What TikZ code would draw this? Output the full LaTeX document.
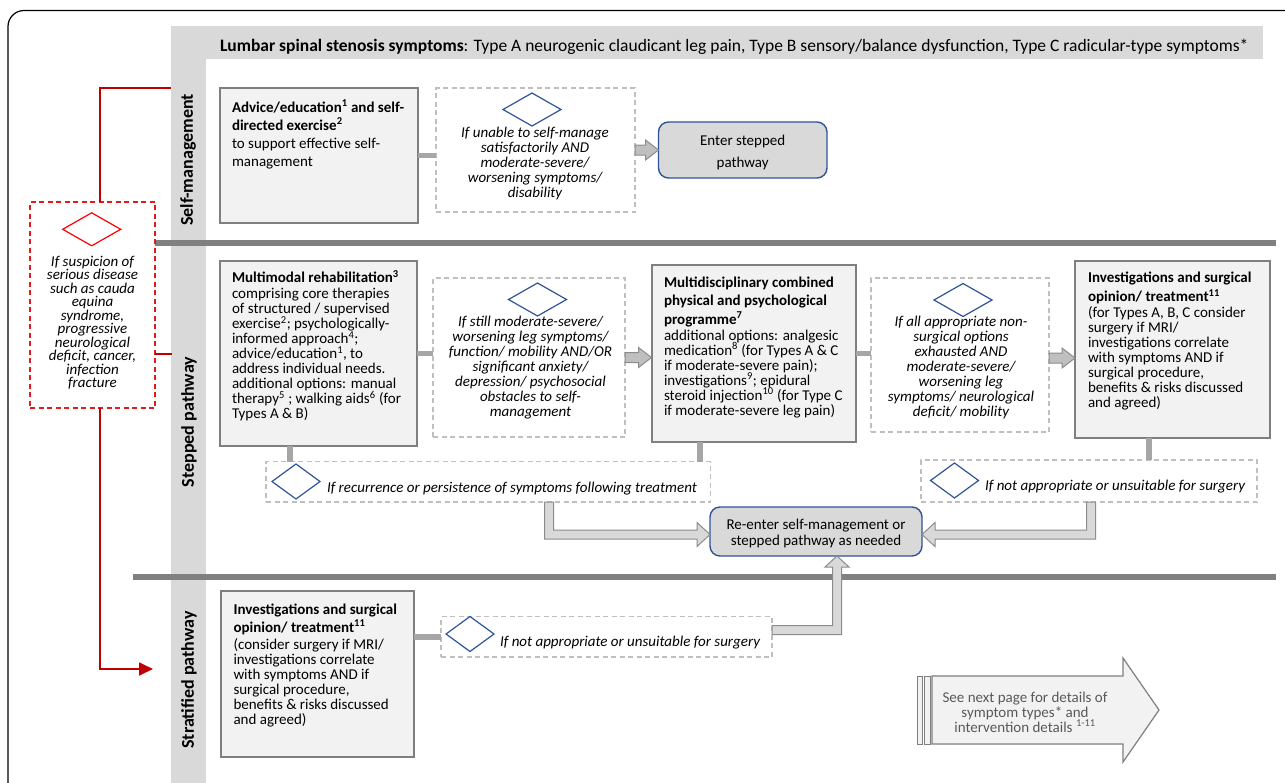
\documentclass[tikz,border=0pt]{standalone}
\usepackage{fontspec}
\setmainfont{Carlito}
\usetikzlibrary{calc,fit,shapes.geometric,arrows.meta}
\definecolor{bandgrey}{HTML}{D9D9D9}
\definecolor{boxfill}{HTML}{F2F2F2}
\definecolor{boxline}{HTML}{7F7F7F}
\definecolor{connline}{HTML}{A6A6A6}
\definecolor{sepline}{HTML}{808080}
\definecolor{dashgrey}{HTML}{BFBFBF}
\definecolor{navy}{HTML}{2F5597}
\definecolor{darkred}{HTML}{C00000}
\definecolor{boxred}{HTML}{E31A1C}
\definecolor{brightred}{HTML}{FF0000}
\definecolor{arrowfill}{HTML}{BFBFBF}
\definecolor{arrowline}{HTML}{8C8C8C}
\definecolor{arrowfillB}{HTML}{D9D9D9}
\definecolor{greytext}{HTML}{595959}
\newcommand{\blockR}[2]{%
  \draw[barrow] ($(#1)+(0,-5)$) -- ($(#1 -| #2)+(-13,-5)$) -- ++(0,-5) -- (#1 -| #2) -- ++(-13,10) -- ++(0,-5) -- ($(#1)+(0,5)$) -- cycle;}
\newcommand{\elbowDR}[3]{%
  \draw[barrowB] ($(#1 -| #2)+(-4.5,0)$) -- ($(#2)+(-4.5,4.5)$) -- ($(#2 -| #3)+(-13,4.5)$) -- ++(0,7.5) -- (#2 -| #3) -- ++(-13,-12) -- ++(0,7.5) -- ($(#2)+(4.5,-4.5)$) -- ($(#1 -| #2)+(4.5,0)$) -- cycle;}
\newcommand{\elbowDL}[3]{%
  \draw[barrowB] ($(#1 -| #2)+(4.5,0)$) -- ($(#2)+(4.5,4.5)$) -- ($(#2 -| #3)+(13,4.5)$) -- ++(0,7.5) -- (#2 -| #3) -- ++(13,-12) -- ++(0,7.5) -- ($(#2)+(-4.5,-4.5)$) -- ($(#1 -| #2)+(-4.5,0)$) -- cycle;}
\newcommand{\elbowRU}[3]{%
  \draw[barrowB] ($(#2 -| #1)+(0,-4.5)$) -- ($(#2)+(-4.5,-4.5)$) -- ($(#2 |- #3)+(-4.5,11)$) -- ++(-7.5,0) -- (#2 |- #3) -- ++(12,11) -- ++(-7.5,0) -- ($(#2)+(4.5,4.5)$) -- ($(#2 -| #1)+(0,4.5)$) -- cycle;}
\begin{document}
\lineskiplimit=-20pt
\lineskip=0pt
\begin{tikzpicture}[x=1pt,y=-1pt,
  every node/.style={inner sep=0pt,outer sep=0pt},
  box/.style={draw=boxline, fill=boxfill, line width=2pt},
  dbox/.style={draw=dashgrey, line width=1.1pt, dash pattern=on 5pt off 3.5pt},
  rbox/.style={draw=boxred, line width=1.4pt, dash pattern=on 5pt off 3.5pt},
  pbox/.style={draw=navy, fill=bandgrey, line width=1.4pt, rounded corners=10pt},
  dia/.style={diamond, draw=navy, line width=1.2pt, minimum width=58pt, minimum height=33pt},
  sdia/.style={diamond, draw=navy, line width=1.2pt, minimum width=48pt, minimum height=35pt},
  conn/.style={draw=connline, line width=5.5pt},
  sep/.style={draw=sepline, line width=6pt},
  barrow/.style={fill=arrowfill, draw=arrowline, line width=1pt},
  barrowB/.style={fill=arrowfillB, draw=arrowline, line width=1pt},
  redline/.style={draw=darkred, line width=1.8pt},
  txt/.style={anchor=north west, align=left, font=\fontsize{15}{15}\selectfont},
  ctxt/.style={anchor=north, align=center, font=\itshape\fontsize{15}{15}\selectfont},
  ltxt/.style={anchor=base west, font=\itshape\fontsize{15}{15}\selectfont},
  lab/.style={rotate=90, font=\bfseries\fontsize{18}{20}\selectfont}]
\useasboundingbox (0,0) rectangle (1285,782);
\clip (0,0) rectangle (1285,782);
\fill[white] (0,0) rectangle (1285,782);
% frame
\draw[black, line width=1.2pt, rounded corners=16pt] (8,830) -- (8,10.5) -- (1330,10.5);
% bands
\fill[bandgrey] (171,26) rectangle (206,800);
\fill[bandgrey] (171,26) rectangle (1263,59);
\coordinate (bandL) at (171,0);
\node[anchor=base west, font=\fontsize{17.5}{20}\selectfont] (hdr) at (220,51)
  {\textbf{Lumbar spinal stenosis symptoms}: Type A neurogenic claudicant leg pain, Type B sensory/balance dysfunction, Type C radicular-type symptoms*};
\node[lab] (labSM) at (188,160) {Self-management};
\node[lab] (labSP) at (189,422) {Stepped pathway};
\node[lab] (labST) at (189,680) {Stratified pathway};
% separators
\draw[sep] (155,243) -- (1276,243);
\draw[sep] (133,577) -- (1276,577);

% helper coordinates
\coordinate (k1) at (290,450);
\coordinate (k2) at (700,450);
\coordinate (k3) at (1149,450);
\coordinate (r1) at (100,88);
\coordinate (r2) at (172,354);
\coordinate (r3) at (100,669);
\coordinate (r4) at (153,669);

% boxes (shapes only, for naming)
\node[box, fit={(220,88) (418,223)}] (A) {};
\node[dbox, fit={(436,88) (635,212)}] (D1) {};
\node[pbox, fit={(658.5,122) (827,178)}] (Enter) {};
\node[rbox, fit={(30,202) (155,408)}] (Red) {};
\node[box, fit={(220,261) (417,445.5)}] (B) {};
\node[dbox, fit={(433,278) (625,437)}] (D2) {};
\node[box, fit={(651.5,265) (856,441.5)}] (C) {};
\node[dbox, fit={(871,278) (1049,432)}] (D3) {};
\node[box, fit={(1075,261) (1270,437.5)}] (E) {};
\node[dbox, fit={(266,461.5) (710.5,502)}] (D4) {};
\node[dbox, fit={(921,460) (1257,502)}] (D5) {};
\node[pbox, fit={(710,507) (922,556)}] (Re) {};
\node[box, fit={(221,591) (414,757)}] (F) {};
\node[dbox, fit={(441,616.5) (772,657)}] (D6) {};

% plain connectors
\draw[conn] (A.east) -- (A.east -| D1.west);
\draw[conn] (B.east) -- (B.east -| D2.west);
\draw[conn] (C.east) -- (C.east -| D3.west);
\draw[conn] (F.east |- D6.west) -- (D6.west);
\draw[conn] (B.south -| k1) -- (D4.north -| k1);
\draw[conn] (C.south -| k2) -- (D4.north -| k2);
\draw[conn] (E.south -| k3) -- (D5.north -| k3);

% red connectors
\draw[redline] (Red.north -| r1) -- (r1) -- (r1 -| bandL);
\draw[redline] (r2 -| Red.east) -- (r2);
\draw[redline, -{Triangle[length=14pt,width=13pt]}] (Red.south -| r3) -- (r3) -- (r4);

% diamonds
\node[dia] (dd1) at (532,109.5) {};
\node[dia] (dd2) at (537.5,299.5) {};
\node[dia] (dd3) at (963,300) {};
\node[dia, draw=brightred] (ddr) at (91.7,229.3) {};
\node[sdia] (dd4) at (296,481.5) {};
\node[sdia] (dd5) at (954.5,480.5) {};
\node[sdia] (dd6) at (470,634) {};

% block arrows
\blockR{D1.east}{Enter.west}
\blockR{D2.east}{C.west}
\coordinate (a3) at ($(D3.east)+(0,3)$);
\blockR{a3}{E.west}
\coordinate (c4) at (549,534.5);
\elbowDR{D4.south}{c4}{Re.west}
\coordinate (c5) at (1091,534.5);
\elbowDL{D5.south}{c5}{Re.east}
\coordinate (c6) at (837,630);
\elbowRU{D6.east}{c6}{Re.south}

% texts
\node[txt, font=\fontsize{15}{18}\selectfont] (At) at (232,100)
  {\rule{0pt}{12pt}\textbf{Advice/education\textsuperscript{1} and self-}\\
   \textbf{directed exercise\textsuperscript{2}}\\
   to support effective self-\\
   management};
\node[ctxt] (D1t) at (535,125)
  {\rule{0pt}{12pt}If unable to self-manage\\ satisfactorily AND\\ moderate-severe/\\ worsening symptoms/\\ disability};
\node[anchor=north, align=center, font=\fontsize{15}{21.6}\selectfont] (Entert) at (742.7,133.7)
  {\rule{0pt}{12pt}Enter stepped\\ pathway};
\node[ctxt, font=\itshape\fontsize{15}{13.5}\selectfont] (Redt) at (92.5,254)
  {\rule{0pt}{12pt}If suspicion of\\ serious disease\\ such as cauda\\ equina\\ syndrome,\\ progressive\\ neurological\\ deficit, cancer,\\ infection\\ fracture};
\node[txt] (Bt) at (232,270.3)
  {\rule{0pt}{12pt}\textbf{Multimodal rehabilitation\textsuperscript{3}}\\[1pt]
   comprising core therapies\\
   of structured / supervised\\
   exercise\textsuperscript{2}; psychologically-\\
   informed approach\textsuperscript{4};\\
   advice/education\textsuperscript{1}, to\\
   address individual needs.\\
   additional options: manual\\
   therapy\textsuperscript{5} ; walking aids\textsuperscript{6} (for\\
   Types A \& B)};
\node[ctxt] (D2t) at (530.5,314.7)
  {\rule{0pt}{12pt}If still moderate-severe/\\ worsening leg symptoms/\\ function/ mobility AND/OR\\ significant anxiety/\\ depression/ psychosocial\\ obstacles to self-\\ management};
\node[txt] (Ct) at (664,275)
  {\rule{0pt}{12pt}\textbf{Multidisciplinary combined}\\[3.5pt]
   \textbf{physical and psychological}\\[3.5pt]
   \textbf{programme\textsuperscript{7}}\\[1pt]
   additional options: analgesic\\
   medication\textsuperscript{8} (for Types A \& C\\
   if moderate-severe pain);\\
   investigations\textsuperscript{9}; epidural\\
   steroid injection\textsuperscript{10} (for Type C\\
   if moderate-severe leg pain)};
\node[ctxt] (D3t) at (961,314.7)
  {\rule{0pt}{12pt}If all appropriate non-\\ surgical options\\ exhausted AND\\ moderate-severe/\\ worsening leg\\ symptoms/ neurological\\ deficit/ mobility};
\node[txt] (Et) at (1088,270.7)
  {\rule{0pt}{12pt}\textbf{Investigations and surgical}\\[4pt]
   \textbf{opinion/ treatment\textsuperscript{11}}\\[0.5pt]
   (for Types A, B, C consider\\
   surgery if MRI/\\
   investigations correlate\\
   with symptoms AND if\\
   surgical procedure,\\
   benefits \& risks discussed\\
   and agreed)};
\node[ltxt] (D4t) at (327,492.3) {If recurrence or persistence of symptoms following treatment};
\node[ltxt] (D5t) at (985,490) {If not appropriate or unsuitable for surgery};
\node[anchor=north, align=center, font=\fontsize{15}{15.7}\selectfont] (Ret) at (816,517.3)
  {\rule{0pt}{12pt}Re-enter self-management or\\ stepped pathway as needed};
\node[txt] (Ft) at (233.5,602)
  {\rule{0pt}{12pt}\textbf{Investigations and surgical}\\[3pt]
   \textbf{opinion/ treatment\textsuperscript{11}}\\[2pt]
   (consider surgery if MRI/\\
   investigations correlate\\
   with symptoms AND if\\
   surgical procedure,\\
   benefits \& risks discussed\\
   and agreed)};
\node[ltxt] (D6t) at (500,646.7) {If not appropriate or unsuitable for surgery};

% see next page arrow
\filldraw[fill=boxfill, draw=boxline, line width=0.8pt] (917,676) rectangle (922,744);
\filldraw[fill=boxfill, draw=boxline, line width=0.8pt] (924,676) rectangle (930,744);
\filldraw[fill=boxfill, draw=boxline, line width=1.2pt] (932,676) -- (1123,676) -- (1123,658) -- (1159,710) -- (1123,762) -- (1123,744) -- (932,744) -- cycle;
\node[anchor=north, align=center, text=greytext, font=\fontsize{15}{15}\selectfont] (next) at (1025,690)
  {\rule{0pt}{12pt}See next page for details of\\ symptom types* and\\ intervention details \textsuperscript{1-11}};
\end{tikzpicture}
\end{document}
